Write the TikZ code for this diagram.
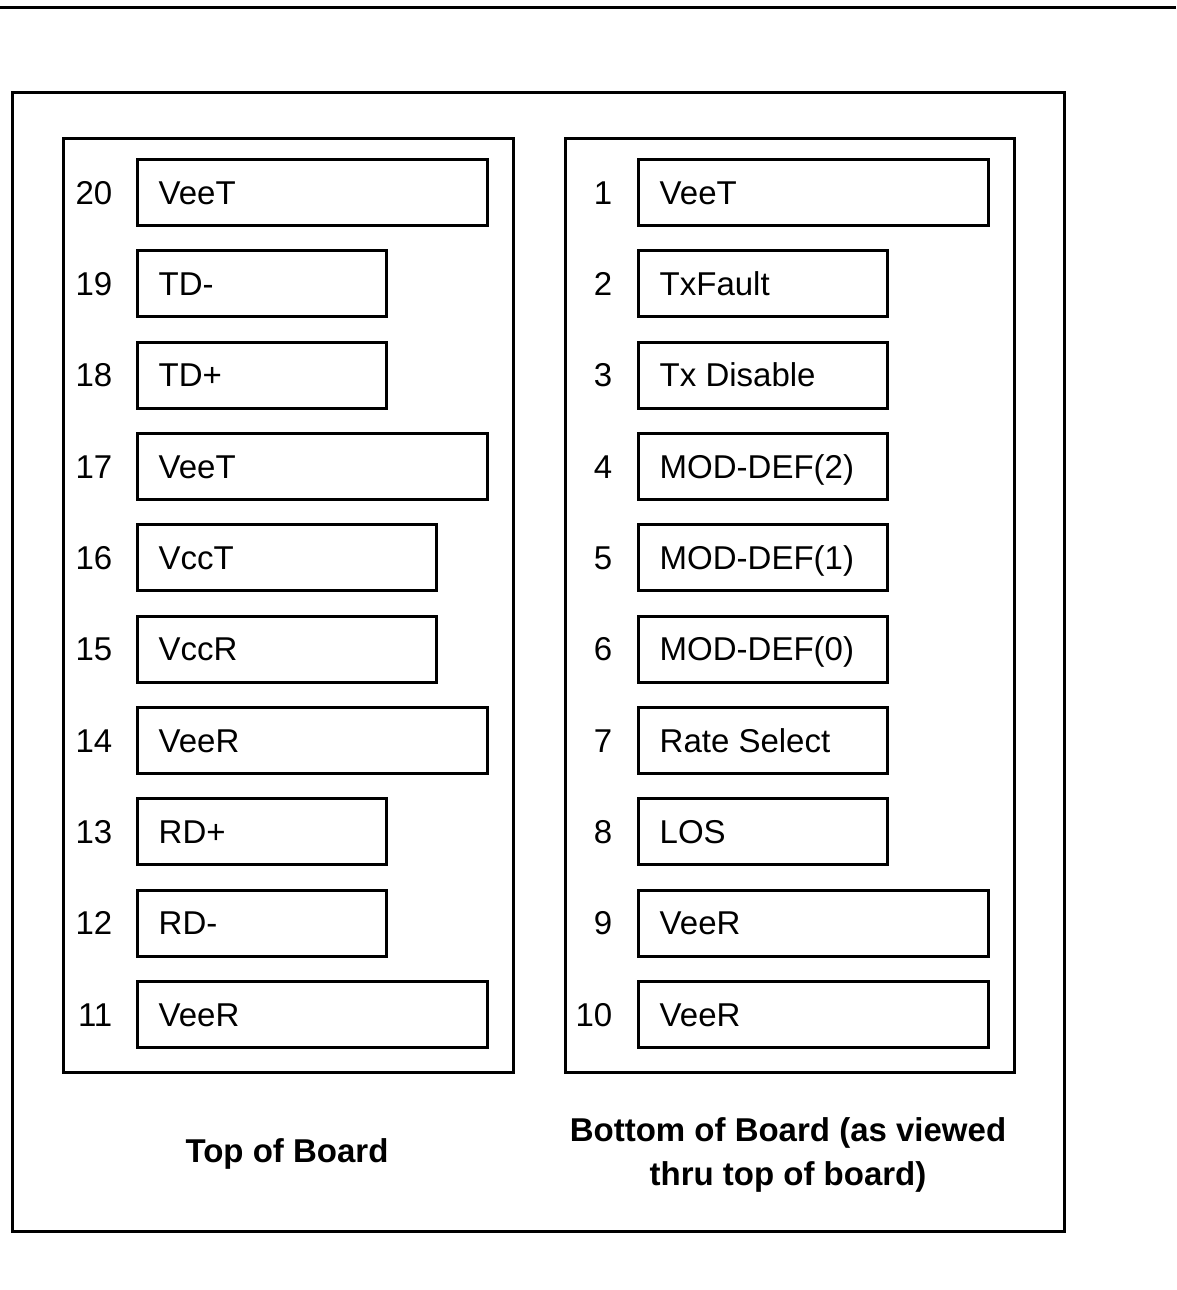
\documentclass[tikz,border=0pt]{standalone}
\usepackage{fontspec}
\setmainfont{Liberation Sans}
\begin{document}
\begin{tikzpicture}[x=1pt,y=-1pt,
  frame/.style={draw, line width=3pt},
  topline/.style={draw, line width=2.5pt},
  pinbox/.style={draw, line width=3pt, minimum height=66pt, inner sep=0pt, outer sep=0pt, anchor=north west},
  pintxt/.style={font=\fontsize{33}{40}\selectfont, anchor=base west, inner sep=0pt},
  pinnum/.style={font=\fontsize{33}{40}\selectfont, anchor=base east, inner sep=0pt},
  caption/.style={font=\fontsize{33}{44}\selectfont\bfseries, align=center, inner sep=0pt}]
\useasboundingbox (0,0) rectangle (1176,1290);
% top rule
\coordinate (tl) at (0,7.5);
\coordinate (tr) at (1176,7.5);
\draw[topline] (tl) -- (tr);
% frames
\node[frame, inner sep=0pt, minimum width=1052pt, minimum height=1139pt, anchor=north west] (outer) at (11,91) {};
\node[frame, inner sep=0pt, minimum width=450pt, minimum height=934.5pt, anchor=north west] (leftf) at (61.5,136.5) {};
\node[frame, inner sep=0pt, minimum width=449.5pt, minimum height=934.5pt, anchor=north west] (rightf) at (563.5,136.5) {};
% left pins
\foreach \n/\lab/\w [count=\i from 0] in {20/VeeT/350, 19/TD-/249, 18/TD+/249, 17/VeeT/350, 16/VccT/299, 15/VccR/299, 14/VeeR/350, 13/RD+/249, 12/RD-/249, 11/VeeR/350} {
  \node[pinbox, minimum width=\w pt] (p\n) at (137.5, 159.5+91.33*\i) {};
  \node[pintxt] (t\n) at ([xshift=21pt,yshift=-11.8pt]p\n.west) {\lab};
  \node[pinnum] (n\n) at ([xshift=-25pt,yshift=-11.8pt]p\n.west) {\n};
}
% right pins
\foreach \n/\lab/\w [count=\i from 0] in {1/VeeT/350, 2/TxFault/249, 3/Tx Disable/249, 4/MOD-DEF(2)/249, 5/MOD-DEF(1)/249, 6/MOD-DEF(0)/249, 7/Rate Select/249, 8/LOS/249, 9/VeeR/350, 10/VeeR/350} {
  \node[pinbox, minimum width=\w pt] (p\n) at (638.5, 159.5+91.33*\i) {};
  \node[pintxt] (t\n) at ([xshift=21pt,yshift=-11.8pt]p\n.west) {\lab};
  \node[pinnum] (n\n) at ([xshift=-26pt,yshift=-11.8pt]p\n.west) {\n};
}
% captions
\node[caption, anchor=base] (capL) at (287,1162) {Top of Board};
\node[caption, anchor=center] (capR) at (788,1155) {Bottom of Board (as viewed\\thru top of board)};
\end{tikzpicture}
\end{document}
